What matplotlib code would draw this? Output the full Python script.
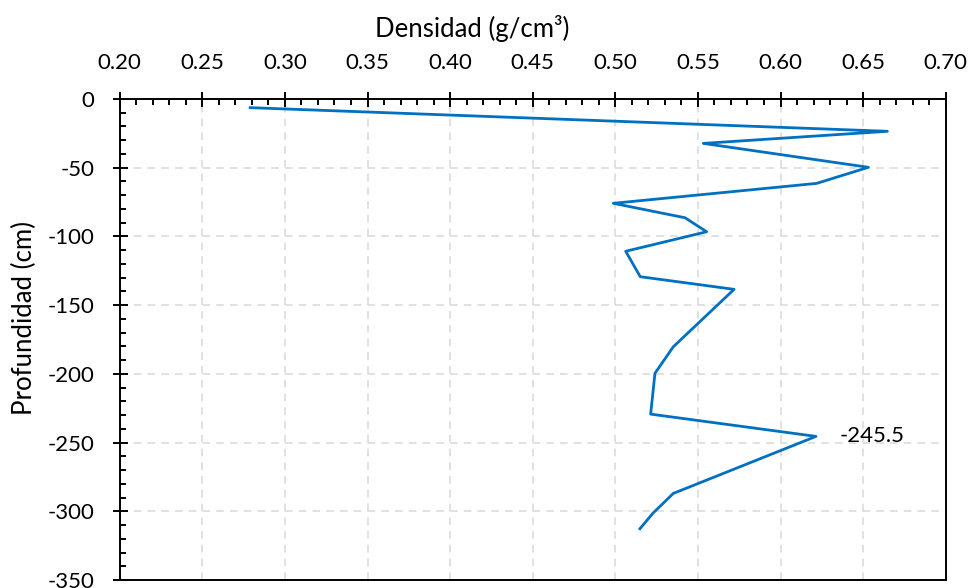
import matplotlib
matplotlib.use("Agg")
import matplotlib.pyplot as plt
from matplotlib.ticker import MultipleLocator, FormatStrFormatter, FuncFormatter

plt.rcParams['font.family'] = ['Lato', 'DejaVu Sans']

# Bulk density profile
densidad = [0.279, 0.6647, 0.5533, 0.6532, 0.6219, 0.4988, 0.5422, 0.5553,
            0.5063, 0.5151, 0.5719, 0.5351, 0.5240, 0.5214, 0.6215, 0.5351,
            0.5227, 0.5149]
profundidad = [-6.3, -23.5, -32.3, -49.7, -61.4, -75.9, -86.4, -96.6,
               -110.8, -129.3, -138.5, -180.3, -199.6, -229.3, -245.5, -287.0,
               -301.5, -312.7]

# Point carrying a value label
etiqueta_idx = 14

fig = plt.figure(figsize=(9.71, 5.88), dpi=100)
ax = fig.add_axes([119.7 / 971, 1 - 580 / 588, (945.7 - 119.7) / 971, (580 - 99) / 588])

ax.plot(densidad, profundidad, color='#0070C0', lw=2.0, zorder=3)

ax.annotate(f"{profundidad[etiqueta_idx]}",
            xy=(densidad[etiqueta_idx], profundidad[etiqueta_idx]),
            xytext=(17, 0), textcoords='offset points',
            ha='left', va='center', fontsize=16, color='black')

ax.set_xlim(0.20, 0.70)
ax.set_ylim(-350, 0)

ax.xaxis.set_major_locator(MultipleLocator(0.05))
ax.xaxis.set_minor_locator(MultipleLocator(0.01))
ax.yaxis.set_major_locator(MultipleLocator(50))
ax.yaxis.set_minor_locator(MultipleLocator(10))
ax.xaxis.set_major_formatter(FormatStrFormatter('%.2f'))
ax.yaxis.set_major_formatter(FuncFormatter(lambda v, p: f"{int(round(v))}".replace('\u2212', '-')))

ax.xaxis.set_ticks_position('top')
ax.xaxis.set_label_position('top')

ax.tick_params(which='major', direction='inout', length=10.8, width=1.4,
               labelsize=16, pad=13, top=True, bottom=False, left=True, right=False,
               labeltop=True, labelbottom=False)
ax.tick_params(which='minor', direction='in', length=4.6, width=1.4,
               top=True, bottom=False, left=True, right=False)

for s in ax.spines.values():
    s.set_linewidth(1.4)
    s.set_color('black')

ax.grid(True, which='major', color='#d9d9d9', lw=1.1, linestyle=(0, (5, 4)))
ax.set_axisbelow(True)

fig.text(472 / 971, 1 - 36.7 / 588, 'Densidad (g/cm³)', ha='center', va='baseline', fontsize=18.5)
fig.text(24 / 971, 1 - 318 / 588, 'Profundidad (cm)', ha='center', va='center',
         rotation=90, fontsize=18.5)

fig.savefig('out.png', dpi=100)
